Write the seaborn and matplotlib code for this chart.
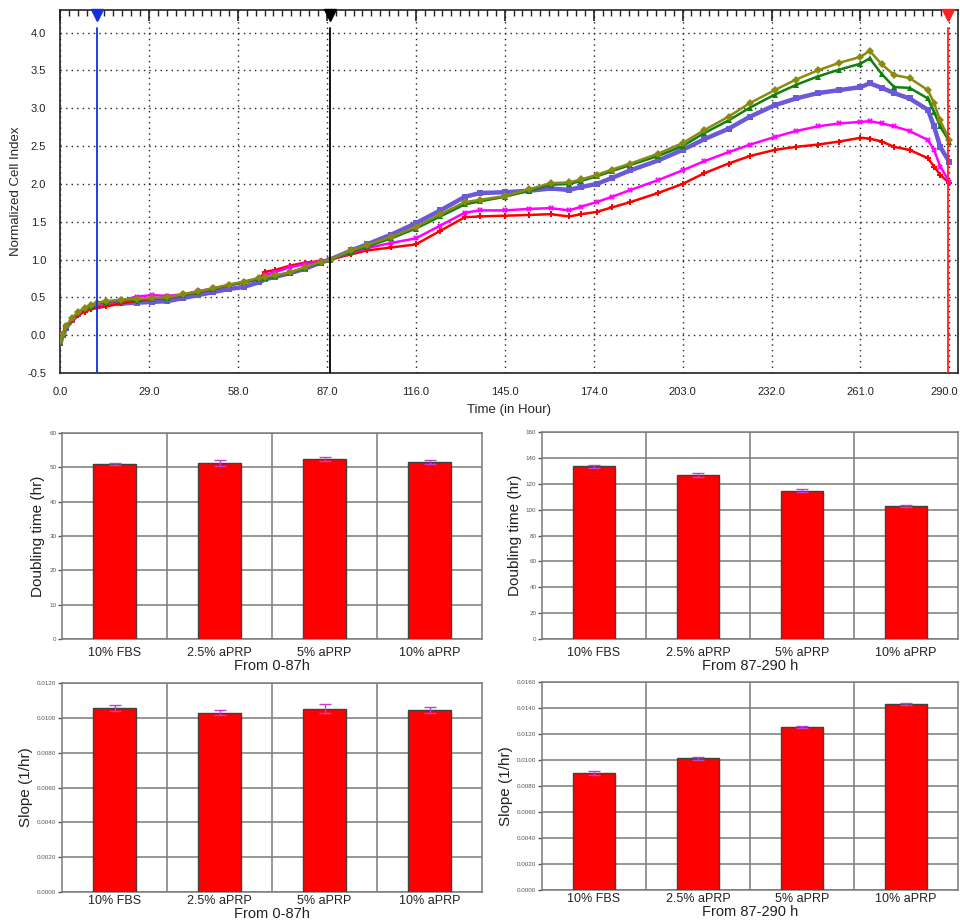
import numpy as np
import pandas as pd
import matplotlib
matplotlib.use("Agg")
import matplotlib.pyplot as plt
import matplotlib.transforms as mtransforms
from matplotlib.ticker import MultipleLocator, FormatStrFormatter
import seaborn as sns

sns.set_style("white")
plt.rcParams['font.family'] = ['Liberation Sans', 'DejaVu Sans']

# --- real-time cell index curves (normalized at ~88 h) ---
time_h = [0, 1, 2, 4, 6, 8, 10, 12, 15, 20, 25, 30, 35, 40, 45, 50, 55, 60, 65, 67, 70, 75, 80, 85, 88,
          95, 100, 108, 116, 124, 132, 137, 145, 153, 160, 166, 170, 175, 180, 186, 195, 203, 210, 218,
          225, 233, 240, 247, 254, 261, 264, 268, 272, 277, 283, 285, 287, 290]

ci_red = [-0.08, 0.02, 0.11, 0.20, 0.27, 0.31, 0.34, 0.36, 0.38, 0.42, 0.45, 0.48, 0.49, 0.53, 0.57, 0.61,
          0.66, 0.70, 0.75, 0.84, 0.86, 0.92, 0.96, 0.98, 1.00,
          1.07, 1.12, 1.16, 1.20, 1.38, 1.56, 1.57, 1.58, 1.59, 1.60, 1.57, 1.60, 1.63, 1.69, 1.76, 1.88,
          2.00, 2.14, 2.27, 2.37, 2.45, 2.49, 2.52, 2.56, 2.61, 2.60, 2.56, 2.49, 2.45, 2.34, 2.23, 2.12, 2.01]
ci_magenta = [-0.08, 0.02, 0.12, 0.22, 0.30, 0.35, 0.39, 0.41, 0.43, 0.46, 0.51, 0.53, 0.52, 0.54, 0.58,
              0.62, 0.66, 0.70, 0.75, 0.80, 0.83, 0.90, 0.94, 0.98, 1.00,
              1.09, 1.15, 1.22, 1.28, 1.45, 1.62, 1.65, 1.65, 1.67, 1.68, 1.65, 1.70, 1.76, 1.83, 1.92,
              2.05, 2.18, 2.30, 2.42, 2.52, 2.62, 2.70, 2.76, 2.80, 2.82, 2.83, 2.80, 2.76, 2.70, 2.58,
              2.45, 2.23, 2.03]
ci_blue = [-0.10, 0.00, 0.10, 0.20, 0.28, 0.33, 0.37, 0.40, 0.41, 0.42, 0.43, 0.44, 0.45, 0.49, 0.53, 0.57,
           0.61, 0.64, 0.70, 0.74, 0.77, 0.82, 0.88, 0.96, 1.00,
           1.12, 1.20, 1.33, 1.48, 1.65, 1.83, 1.88, 1.89, 1.91, 1.94, 1.92, 1.96, 2.00, 2.08, 2.18, 2.31,
           2.45, 2.59, 2.73, 2.89, 3.04, 3.13, 3.20, 3.24, 3.28, 3.33, 3.27, 3.20, 3.13, 2.98, 2.76, 2.49, 2.29]
ci_green = [-0.10, 0.01, 0.11, 0.22, 0.30, 0.35, 0.39, 0.42, 0.44, 0.46, 0.47, 0.48, 0.49, 0.53, 0.57, 0.61,
            0.66, 0.70, 0.74, 0.75, 0.78, 0.82, 0.89, 0.96, 1.00,
            1.10, 1.17, 1.28, 1.41, 1.57, 1.73, 1.77, 1.83, 1.91, 1.99, 2.00, 2.04, 2.10, 2.17, 2.25, 2.37,
            2.50, 2.67, 2.84, 3.01, 3.18, 3.31, 3.42, 3.51, 3.59, 3.66, 3.45, 3.28, 3.27, 3.13, 2.95, 2.76, 2.56]
ci_olive = [-0.08, 0.02, 0.12, 0.23, 0.31, 0.36, 0.40, 0.43, 0.45, 0.47, 0.48, 0.49, 0.50, 0.54, 0.58, 0.62,
            0.67, 0.71, 0.76, 0.77, 0.79, 0.83, 0.90, 0.97, 1.00,
            1.12, 1.19, 1.30, 1.43, 1.60, 1.76, 1.79, 1.84, 1.93, 2.01, 2.02, 2.06, 2.12, 2.19, 2.27, 2.40,
            2.54, 2.71, 2.89, 3.07, 3.24, 3.38, 3.50, 3.60, 3.68, 3.76, 3.58, 3.44, 3.40, 3.24, 3.07, 2.84, 2.58]

# vertical markers on the time axis (hours)
marker_times = [12.1, 88.0, 289.7]
marker_colors = ['#1030e0', '#000000', '#ff2020']

# --- bar charts ---
groups = ['10% FBS', '2.5% aPRP', '5% aPRP', '10% aPRP']
dt_early = [51.0, 51.3, 52.5, 51.6]
dt_early_err = [0.3, 1.0, 0.6, 0.5]
dt_late = [133.5, 126.8, 114.8, 102.8]
dt_late_err = [1.4, 1.2, 1.2, 0.7]
slope_early = [0.01055, 0.01030, 0.01052, 0.01045]
slope_early_err = [0.00018, 0.00016, 0.00026, 0.00018]
slope_late = [0.00900, 0.01012, 0.01252, 0.01432]
slope_late_err = [0.00012, 0.00010, 0.00009, 0.00010]

series = [
    ('blue', ci_blue, '#6a5ad8', 's', 3.2),
    ('red', ci_red, '#ff0000', 'P', 1.8),
    ('magenta', ci_magenta, '#ff00ff', 'X', 1.8),
    ('green', ci_green, '#108010', '^', 1.8),
    ('olive', ci_olive, '#8a8a10', 'D', 1.8),
]

fig = plt.figure(figsize=(9.6, 9.24), dpi=100)

# top: cell index vs time
ax = fig.add_axes([0.0625, 0.5963, 0.9354, 0.3929])
for name, vals, col, mk, lw in series:
    df = pd.DataFrame({'Time': time_h, 'CI': vals})
    sns.lineplot(data=df, x='Time', y='CI', ax=ax, color=col, lw=lw, marker=mk,
                 markersize=4, markeredgewidth=0, legend=False, zorder=3)

for t, c in zip(marker_times, marker_colors):
    ax.axvline(t, ymin=0, ymax=0.95, color=c, lw=1.3, zorder=4)
    ax.plot([t], [0.985], marker='v', color=c, markersize=8,
            transform=ax.get_xaxis_transform(), clip_on=False, zorder=5)

ax.set_xlim(0, 292.8)
ax.set_ylim(-0.5, 4.3)
ax.xaxis.set_major_locator(MultipleLocator(29))
ax.xaxis.set_minor_locator(MultipleLocator(2.9))
ax.yaxis.set_major_locator(MultipleLocator(0.5))
ax.yaxis.set_minor_locator(MultipleLocator(0.1))
ax.xaxis.set_major_formatter(FormatStrFormatter('%.1f'))
ax.yaxis.set_major_formatter(FormatStrFormatter('%.1f'))
ax.tick_params(axis='both', which='major', direction='in', length=8, width=1.2,
               labelsize=8, colors='#222222', pad=10, top=True)
ax.tick_params(axis='both', which='minor', direction='in', length=4, width=1,
               top=True, colors='#222222')
ax.tick_params(axis='x', which='major', pad=10)
ax.grid(True, which='major', ls=(0, (1, 3)), color='#222222', lw=1)
for s in ax.spines.values():
    s.set_color('#222222')
    s.set_linewidth(1.2)
ax.set_xlabel('Time (in Hour)', fontsize=9.5, labelpad=5)
ax.set_ylabel('Normalized Cell Index', fontsize=9.5, labelpad=4)

# nudge the last time label so it stays inside the figure
fig.canvas.draw()
last_lbl = ax.get_xticklabels()[-1]
for lbl in ax.get_xticklabels():
    if lbl.get_text() == '290.0':
        lbl.set_transform(lbl.get_transform() +
                          mtransforms.ScaledTranslation(-5 / 100, 0, fig.dpi_scale_trans))


def bar_panel(rect, vals, errs, ymax, ystep, fmt, ylabel, xlabel, tpad):
    bx = fig.add_axes(rect)
    sns.barplot(x=groups, y=vals, color='#ff0000', edgecolor='#404040', linewidth=1,
                width=0.41, errorbar=None, ax=bx, zorder=3, saturation=1)
    bx.errorbar(range(len(groups)), vals, yerr=errs, fmt='none', ecolor='#c040d0',
                elinewidth=1, capsize=4, capthick=1, zorder=4)
    bx.set_xlim(-0.5, len(groups) - 0.5)
    bx.set_ylim(0, ymax)
    bx.set_yticks(np.arange(0, ymax + ystep / 2, ystep))
    bx.yaxis.set_major_formatter(FormatStrFormatter(fmt))
    bx.yaxis.grid(True, color='#7a7a7a', lw=1.1)
    for xb in [0.5, 1.5, 2.5]:
        bx.axvline(xb, color='#7a7a7a', lw=1.1, zorder=1)
    for s in bx.spines.values():
        s.set_color('#7a7a7a')
        s.set_linewidth(1.1)
    bx.tick_params(axis='y', labelsize=4.5, colors='#555555', length=3, width=1, left=True, pad=1)
    bx.tick_params(axis='x', labelsize=9, length=0, pad=tpad, labelcolor='#222222')
    bx.set_ylabel(ylabel, fontsize=11, color='#222222', labelpad=3)
    bx.set_xlabel(xlabel, fontsize=10.5, color='#222222', labelpad=0)
    return bx


bar_panel([0.0646, 0.3084, 0.4375, 0.2229], dt_early, dt_early_err, 60, 10, '%d',
          'Doubling time (hr)', 'From 0-87h', 6)
bar_panel([0.5646, 0.3084, 0.4333, 0.2240], dt_late, dt_late_err, 160, 20, '%d',
          'Doubling time (hr)', 'From 87-290 h', 6)
bar_panel([0.0646, 0.0346, 0.4375, 0.2262], slope_early, slope_early_err, 0.012, 0.002, '%.4f',
          'Slope (1/hr)', 'From 0-87h', 2)
bar_panel([0.5646, 0.0368, 0.4333, 0.2251], slope_late, slope_late_err, 0.016, 0.002, '%.4f',
          'Slope (1/hr)', 'From 87-290 h', 2)

fig.savefig('out.png', dpi=100)
